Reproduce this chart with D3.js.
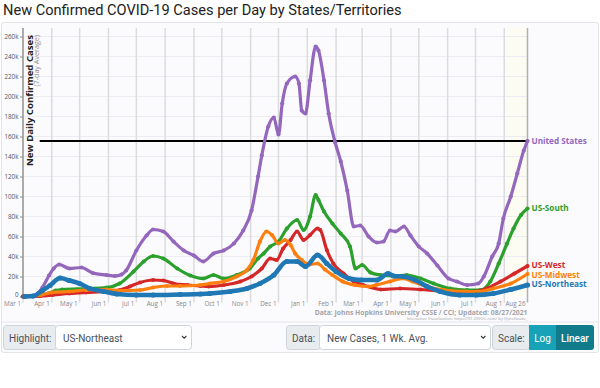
<!DOCTYPE html>
<html><head><meta charset="utf-8">
<script src="https://cdn.jsdelivr.net/npm/d3@7"></script>
<style>
html,body{margin:0;padding:0;background:#fff;}
svg{display:block;}
</style></head>
<body>
<svg id="chart" width="600" height="388"></svg>
<script>
// ---------------- DATA (values in thousands, 7-day avg) ----------------
const title = "New Confirmed COVID-19 Cases per Day by States/Territories";
const seriesNames = ["United States", "US-South", "US-West", "US-Midwest", "US-Northeast"];
const seriesColors = ["#9467bd", "#2ca02c", "#d62728", "#ff7f0e", "#1f77b4"];
const highlighted = "US-Northeast";
const yTicks = [0,20,40,60,80,100,120,140,160,180,200,220,240,260];
const xTickDates = ["2020-03-01","2020-04-01","2020-05-01","2020-06-01","2020-07-01","2020-08-01","2020-09-01","2020-10-01","2020-11-01","2020-12-01","2021-01-01","2021-02-01","2021-03-01","2021-04-01","2021-05-01","2021-06-01","2021-07-01","2021-08-01","2021-08-26"];
const refLine = {start:"2020-03-19", end:"2021-08-26", value:155.5};

const usData = [["2020-03-01",0],["2020-03-12",0.5],["2020-03-17",3],["2020-03-22",9],["2020-03-29",21],["2020-04-03",28],["2020-04-09",32],["2020-04-20",28],["2020-05-03",29],["2020-05-15",23.5],["2020-05-30",21.5],["2020-06-08",20.5],["2020-06-15",22],["2020-06-20",26],["2020-07-01",46],["2020-07-12",61],["2020-07-19",67],["2020-07-30",65],["2020-08-10",55],["2020-08-21",46],["2020-09-01",41],["2020-09-11",35],["2020-09-22",43],["2020-10-03",46],["2020-10-14",53],["2020-10-24",66],["2020-11-02",86],["2020-11-09",120],["2020-11-13",141],["2020-11-20",170],["2020-11-26",179],["2020-12-01",162],["2020-12-05",193],["2020-12-10",213],["2020-12-19",220],["2020-12-23",213],["2020-12-26",186],["2020-12-30",183],["2021-01-04",216],["2021-01-10",250],["2021-01-13",246],["2021-01-19",216],["2021-01-24",183],["2021-01-31",154],["2021-02-06",135],["2021-02-13",106],["2021-02-20",70],["2021-02-27",71],["2021-03-08",60],["2021-03-17",54],["2021-03-24",55],["2021-03-31",66],["2021-04-06",65],["2021-04-15",70],["2021-04-22",61],["2021-05-01",50],["2021-05-10",43],["2021-05-21",31],["2021-06-02",18],["2021-06-11",15],["2021-06-22",11.5],["2021-07-04",13],["2021-07-10",20],["2021-07-19",40],["2021-07-26",53],["2021-07-31",78],["2021-08-08",100],["2021-08-15",123],["2021-08-22",146],["2021-08-26",155.5]];

const southData = [["2020-03-01",0],["2020-03-18",0.5],["2020-03-28",3],["2020-04-05",6],["2020-04-12",7],["2020-05-08",8],["2020-05-30",9],["2020-06-13",13],["2020-06-28",25],["2020-07-09",35],["2020-07-19",40.5],["2020-07-30",38],["2020-08-14",28],["2020-08-28",21],["2020-09-11",18],["2020-09-22",21.5],["2020-10-03",18],["2020-10-17",21.5],["2020-10-31",28],["2020-11-09",38],["2020-11-15",43],["2020-11-22",50],["2020-12-01",55],["2020-12-10",68],["2020-12-21",76.5],["2020-12-28",66.5],["2021-01-04",80],["2021-01-10",101.5],["2021-01-13",96.5],["2021-01-19",85],["2021-01-28",73],["2021-02-06",63],["2021-02-16",50],["2021-02-22",28],["2021-03-01",31.5],["2021-03-10",24],["2021-03-21",21.5],["2021-04-04",20.5],["2021-04-18",21.5],["2021-05-03",18],["2021-05-17",13],["2021-06-04",8],["2021-06-22",6.5],["2021-07-06",6.5],["2021-07-17",15],["2021-07-26",33],["2021-08-04",53],["2021-08-11",68],["2021-08-19",81.5],["2021-08-26",88]];

const westData = [["2020-03-01",0],["2020-03-20",0.5],["2020-04-02",1.5],["2020-04-20",3],["2020-05-08",4],["2020-05-30",5],["2020-06-13",6.5],["2020-06-24",10],["2020-07-05",14],["2020-07-19",16.5],["2020-07-30",16],["2020-08-10",13],["2020-08-25",11.5],["2020-09-08",10.5],["2020-09-17",10],["2020-10-03",11.5],["2020-10-21",15],["2020-11-02",20],["2020-11-13",28],["2020-11-22",38],["2020-11-29",36.5],["2020-12-06",48],["2020-12-14",56.5],["2020-12-21",65],["2020-12-28",56.5],["2021-01-04",61.5],["2021-01-12",68],["2021-01-15",66.5],["2021-01-22",46.5],["2021-01-29",33],["2021-02-09",23],["2021-02-20",15],["2021-03-02",11.5],["2021-03-21",7],["2021-04-11",8],["2021-05-03",7],["2021-05-24",5.5],["2021-06-15",5],["2021-06-29",5],["2021-07-13",8],["2021-07-28",15],["2021-08-12",23],["2021-08-26",30.5]];

const midwestData = [["2020-03-03",0],["2020-03-20",1.5],["2020-04-01",4],["2020-04-20",5],["2020-05-08",6.5],["2020-05-30",7],["2020-06-13",6],["2020-07-05",6.5],["2020-07-19",9],["2020-08-03",10.5],["2020-08-17",10.5],["2020-09-08",11.5],["2020-09-18",13],["2020-10-03",15],["2020-10-17",20],["2020-10-28",26.5],["2020-11-04",36.5],["2020-11-11",55],["2020-11-18",65],["2020-11-24",61.5],["2020-12-01",53],["2020-12-08",56.5],["2020-12-14",51.5],["2020-12-19",43],["2020-12-26",36.5],["2021-01-03",32],["2021-01-12",33],["2021-01-20",27],["2021-01-28",21.5],["2021-02-08",15],["2021-02-21",11.5],["2021-03-08",10],["2021-03-16",11.5],["2021-03-31",15],["2021-04-14",18],["2021-04-24",15],["2021-05-10",10],["2021-05-28",6.5],["2021-06-22",5],["2021-07-06",5],["2021-07-20",8],["2021-08-08",13],["2021-08-26",22.5]];

const northeastData = [["2020-03-03",0],["2020-03-12",0.5],["2020-03-22",6],["2020-03-30",11],["2020-04-10",18.5],["2020-04-20",16],["2020-05-01",13],["2020-05-12",8],["2020-05-27",5],["2020-06-10",2.5],["2020-07-01",1.5],["2020-07-19",1.5],["2020-08-17",2],["2020-09-08",2.5],["2020-09-18",3],["2020-10-10",5],["2020-10-28",8],["2020-11-11",13],["2020-11-26",21.5],["2020-12-10",35],["2020-12-21",35],["2020-12-30",30],["2021-01-12",41.5],["2021-01-22",33],["2021-02-01",25],["2021-02-15",18],["2021-02-28",16.5],["2021-03-17",16.5],["2021-03-29",23],["2021-04-04",20.5],["2021-04-14",20],["2021-04-27",16.5],["2021-05-10",10],["2021-05-24",5],["2021-06-14",1.5],["2021-07-02",1.5],["2021-07-20",3],["2021-08-08",7],["2021-08-26",11.5]];

const allData = [usData, southData, westData, midwestData, northeastData];

// ---------------- DRAW ----------------
const parse = d3.timeParse("%Y-%m-%d");
const svg = d3.select("#chart");

// chart container
svg.append("rect").attr("x",1.5).attr("y",22.5).attr("width",597).attr("height",330)
  .attr("fill","#fbfbfe").attr("stroke","#e3e3e8").attr("rx",2);

svg.append("text").attr("x",3).attr("y",15).text(title)
  .attr("font-family","Roboto, sans-serif").attr("font-size",14.6).attr("fill","#222");

const x = d3.scaleTime().domain([parse("2020-03-01"), parse("2021-08-26")]).range([23, 527.5]);
const y = d3.scaleLinear().domain([0, 260]).range([296.5, 36.5]);
const plotTop = 28;

// recent-data band
svg.append("rect").attr("x", x(parse("2021-08-05"))).attr("y", plotTop)
  .attr("width", x(parse("2021-08-26")) - x(parse("2021-08-05"))).attr("height", y(0)-plotTop)
  .attr("fill","#fcfcf3");

// horizontal grid
svg.append("g").selectAll("line").data(yTicks.slice(1)).join("line")
  .attr("x1",23).attr("x2",x.range()[1]).attr("y1",d=>y(d)).attr("y2",d=>y(d))
  .attr("stroke","#ececf2").attr("stroke-width",1);

// vertical grid
const xt = xTickDates.map(parse);
svg.append("g").selectAll("line").data(xt).join("line")
  .attr("x1",d=>x(d)).attr("x2",d=>x(d)).attr("y1",plotTop).attr("y2",y(0)+6)
  .attr("stroke",(d,i)=> i===xt.length-1 ? "#b0b0b0" : "#dcdcdc").attr("stroke-width",1.5);

// x tick labels
svg.append("g").selectAll("text").data(xt).join("text")
  .attr("x",d=>x(d)-2).attr("y",y(0)+9).attr("text-anchor","end")
  .attr("font-family","'Open Sans', sans-serif").attr("font-size",6.3).attr("fill","#888")
  .text(d=>d3.timeFormat("%b %-d")(d));

// y axis
const yAxis = d3.axisLeft(y).tickValues(yTicks).tickSize(3).tickPadding(1.5)
  .tickFormat(d => d===0 ? "0" : d + "k");
const yg = svg.append("g").attr("transform","translate(23,0)").call(yAxis);
yg.select(".domain").remove();
yg.selectAll(".tick line").attr("stroke","#888");
yg.selectAll(".tick text").attr("font-family","'Open Sans', sans-serif").attr("font-size",6.3).attr("fill","#555")
  .attr("dy", d => d===0 ? "0em" : "0.32em");
svg.append("line").attr("x1",23).attr("x2",23).attr("y1",plotTop).attr("y2",y(0)+1)
  .attr("stroke","#999").attr("stroke-width",1.5);

// y axis title
svg.append("text").attr("transform","translate(32.5,35) rotate(-90)").attr("text-anchor","end")
  .attr("font-family","'Open Sans', sans-serif").attr("font-weight","bold").attr("font-size",9.6)
  .attr("fill","#222").text("New Daily Confirmed Cases");
svg.append("text").attr("transform","translate(39,35) rotate(-90)").attr("text-anchor","end")
  .attr("font-family","'Open Sans', sans-serif").attr("font-size",7.2)
  .attr("fill","#909090").text("(7-day Average)");

// reference line
svg.append("line").attr("x1",x(parse(refLine.start))).attr("x2",x(parse(refLine.end)))
  .attr("y1",y(refLine.value)).attr("y2",y(refLine.value)).attr("stroke","#000").attr("stroke-width",2);

// series
const line = d3.line().x(d=>x(parse(d[0]))).y(d=>y(d[1])).curve(d3.curveMonotoneX);
seriesNames.forEach((name,i)=>{
  const hl = name === highlighted;
  const g = svg.append("g");
  g.append("path").datum(allData[i]).attr("d",line).attr("fill","none")
    .attr("stroke",seriesColors[i]).attr("stroke-width", hl ? 4.5 : 3.2)
    .attr("stroke-linejoin","round").attr("stroke-linecap","round");
  g.selectAll("circle").data(allData[i]).join("circle")
    .attr("cx",d=>x(parse(d[0]))).attr("cy",d=>y(d[1])).attr("r", hl ? 2.6 : 2.1)
    .attr("fill",seriesColors[i]);
});

// end labels
const labelY = [141, 207.5, 265, 274.5, 284];
seriesNames.forEach((name,i)=>{
  const last = allData[i][allData[i].length-1];
  svg.append("text").attr("x", x(parse(last[0])) + 4).attr("y", labelY[i] + 3)
    .attr("font-family","'Open Sans', sans-serif").attr("font-weight","bold").attr("font-size",8.2)
    .attr("fill",seriesColors[i]).text(name);
});

// footer
svg.append("text").attr("x",527.5).attr("y",314.5).attr("text-anchor","end")
  .attr("font-family","'Open Sans', sans-serif").attr("font-weight","bold").attr("font-size",6.8)
  .attr("fill","#a3a3a8").text("Data: Johns Hopkins University CSSE / CCI; Updated: 08/27/2021");
svg.append("text").attr("x",527.5).attr("y",319.5).attr("text-anchor","end")
  .attr("font-family","'Open Sans', sans-serif").attr("font-size",4.1)
  .attr("fill","#a3a3a8").text("Interactive Visualization: https://91-DIVOC.com/ by @profwade_");

// controls
svg.append("line").attr("x1",2).attr("x2",598).attr("y1",322).attr("y2",322).attr("stroke","#e6e6ea");
const ctlFont = "Roboto, sans-serif";
function labelBox(x0,x1,txt){
  svg.append("rect").attr("x",x0+0.5).attr("y",325.5).attr("width",x1-x0).attr("height",24)
    .attr("rx",3).attr("fill","#e9ecef").attr("stroke","#ced4da");
  svg.append("text").attr("x",x0+6).attr("y",341.5).attr("font-family",ctlFont).attr("font-size",10)
    .attr("fill","#495057").text(txt);
}
function selectBox(x0,x1,txt){
  svg.append("rect").attr("x",x0+0.5).attr("y",325.5).attr("width",x1-x0).attr("height",24)
    .attr("rx",3).attr("fill","#fff").attr("stroke","#ced4da");
  svg.append("text").attr("x",x0+8).attr("y",341.5).attr("font-family",ctlFont).attr("font-size",10)
    .attr("fill","#495057").text(txt);
  svg.append("path").attr("d",`M${x1-9},336 l2.2,2.2 l2.2,-2.2`).attr("fill","none")
    .attr("stroke","#343a40").attr("stroke-width",1.1);
}
labelBox(3,56,"Highlight:");
selectBox(55,191,"US-Northeast");
labelBox(286,320,"Data:");
selectBox(319,490,"New Cases, 1 Wk. Avg.");
labelBox(492,529,"Scale:");
svg.append("rect").attr("x",529).attr("y",325).attr("width",27).attr("height",25).attr("fill","#17a2b8");
svg.append("text").attr("x",542.5).attr("y",341.5).attr("text-anchor","middle").attr("font-family",ctlFont)
  .attr("font-size",10).attr("fill","#fff").text("Log");
svg.append("rect").attr("x",556).attr("y",325).attr("width",38).attr("height",25).attr("rx",3).attr("fill","#117a8b");
svg.append("rect").attr("x",556).attr("y",325).attr("width",6).attr("height",25).attr("fill","#117a8b");
svg.append("text").attr("x",575).attr("y",341.5).attr("text-anchor","middle").attr("font-family",ctlFont)
  .attr("font-size",10).attr("font-weight",500).attr("fill","#fff").text("Linear");
</script>
</body></html>
